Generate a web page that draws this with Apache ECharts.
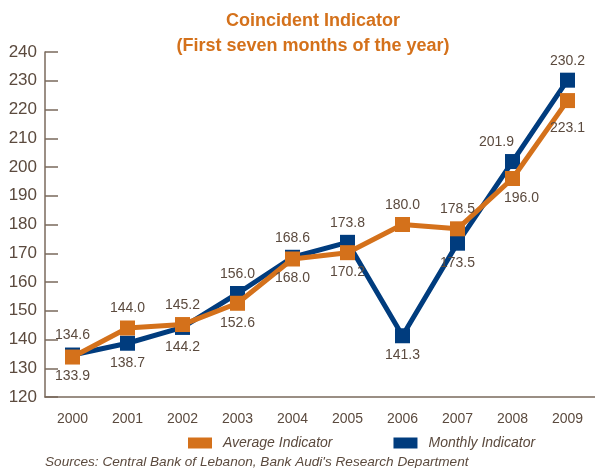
<!DOCTYPE html>
<html>
<head>
<meta charset="utf-8">
<script src="https://cdn.jsdelivr.net/npm/echarts@6/dist/echarts.min.js"></script>
<style>
  html, body { margin: 0; padding: 0; background: #fff; }
  #chart { width: 595px; height: 468px; }
</style>
</head>
<body>
<div id="chart"></div>
<script>
const years = ["2000", "2001", "2002", "2003", "2004", "2005", "2006", "2007", "2008", "2009"];
const averageIndicator = [133.9, 144.0, 145.2, 152.6, 168.0, 170.2, 180.0, 178.5, 196.0, 223.1];
const monthlyIndicator = [134.6, 138.7, 144.2, 156.0, 168.6, 173.8, 141.3, 173.5, 201.9, 230.2];
// where each value label sits relative to its marker
const averageLabelPos = ["bottom", "top", "top", "bottom", "bottom", "bottom", "top", "top", "bottom", "bottom"];
const monthlyLabelPos = ["top", "bottom", "bottom", "top", "top", "top", "bottom", "bottom", "top", "top"];

const orange = "#d4711b";
const blue = "#003c7e";
const textColor = "#5b4a3e";
const axisColor = "#7a6a5c";
const font = "'Liberation Sans', Arial, sans-serif";

// a few labels are nudged sideways / down in the original
const offsets = {
  "2008": { average: [9, 0], monthly: [-16, 0] },
  "2009": { average: [0, 8], monthly: [0, 0] },
};

function points(values, positions, key) {
  return values.map((v, i) => {
    const off = offsets[years[i]] ? offsets[years[i]][key] : [0, 0];
    return {
      value: v,
      label: { position: positions[i], offset: off },
    };
  });
}

const chart = echarts.init(document.getElementById("chart"));
chart.setOption({
  animation: false,
  title: {
    text: "Coincident Indicator\n(First seven months of the year)",
    left: 308,
    top: 4,
    textAlign: "center",
    textStyle: {
      color: orange,
      fontFamily: font,
      fontWeight: "bold",
      fontSize: 18,
      lineHeight: 25,
    },
  },
  legend: {
    left: 183,
    top: 431,
    itemWidth: 24,
    itemHeight: 11,
    itemGap: 61,
    icon: "rect",
    data: ["Average Indicator", "Monthly Indicator"],
    textStyle: {
      color: textColor,
      fontFamily: font,
      fontStyle: "italic",
      fontSize: 14,
      padding: [0, 0, 0, 6],
    },
  },
  graphic: [
    {
      type: "text",
      left: 45,
      top: 455,
      style: {
        text: "Sources: Central Bank of Lebanon, Bank Audi's Research Department",
        fill: textColor,
        font: "italic 13.6px " + font,
      },
    },
  ],
  grid: { left: 45, right: 0, top: 52, bottom: 71 },
  xAxis: {
    type: "category",
    data: years,
    boundaryGap: true,
    axisLine: { lineStyle: { color: axisColor, width: 1.5 } },
    axisTick: { inside: true, length: 9, lineStyle: { color: axisColor, width: 1.5 } },
    axisLabel: { color: textColor, fontFamily: font, fontSize: 14, margin: 15 },
    splitLine: { show: false },
  },
  yAxis: {
    type: "value",
    min: 120,
    max: 240,
    interval: 10,
    axisLine: { show: true, lineStyle: { color: axisColor, width: 1.5 } },
    axisTick: { show: true, inside: true, length: 13, lineStyle: { color: axisColor, width: 1.5 } },
    axisLabel: { color: textColor, fontFamily: font, fontSize: 17, margin: 8 },
    splitLine: { show: false },
  },
  series: [
    {
      name: "Monthly Indicator",
      type: "line",
      data: points(monthlyIndicator, monthlyLabelPos, "monthly"),
      symbol: "rect",
      symbolSize: 15,
      color: blue,
      lineStyle: { color: blue, width: 5 },
      itemStyle: { color: blue },
      label: {
        show: true,
        color: textColor,
        fontFamily: font,
        fontSize: 14,
        distance: 5,
        formatter: (p) => p.value.toFixed(1),
      },
      z: 2,
    },
    {
      name: "Average Indicator",
      type: "line",
      data: points(averageIndicator, averageLabelPos, "average"),
      symbol: "rect",
      symbolSize: 15,
      color: orange,
      lineStyle: { color: orange, width: 5 },
      itemStyle: { color: orange },
      label: {
        show: true,
        color: textColor,
        fontFamily: font,
        fontSize: 14,
        distance: 5,
        formatter: (p) => p.value.toFixed(1),
      },
      z: 3,
    },
  ],
});
</script>
</body>
</html>
